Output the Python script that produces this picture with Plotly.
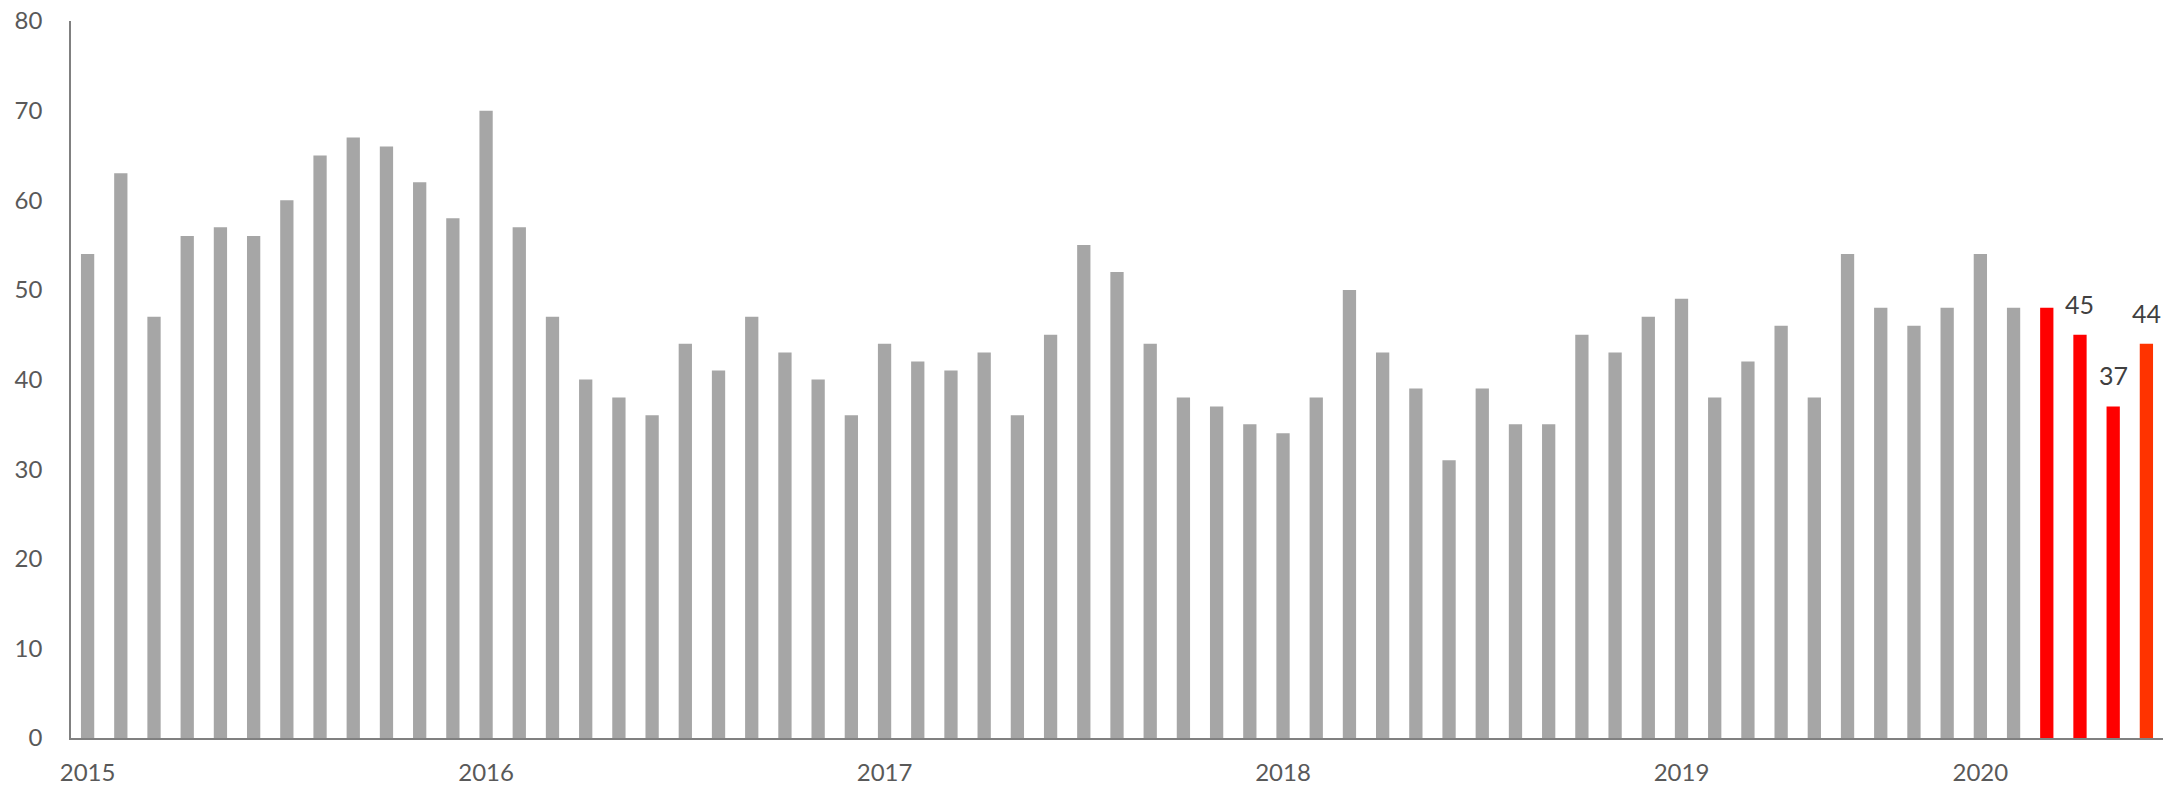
import plotly.graph_objects as go

values = [54, 63, 47, 56, 57, 56, 60, 65, 67, 66, 62, 58,
          70, 57, 47, 40, 38, 36, 44, 41, 47, 43, 40, 36,
          44, 42, 41, 43, 36, 45, 55, 52, 44, 38, 37, 35,
          34, 38, 50, 43, 39, 31, 39, 35, 35, 45, 43, 47,
          49, 38, 42, 46, 38, 54, 48, 46, 48,
          54, 48, 48, 45, 37, 44]
year_labels = ["2015", "2016", "2017", "2018", "2019", "2020"]
year_start_index = [0, 12, 24, 36, 48, 57]
highlight_start = 59
labelled = [60, 61, 62]

GRAY = "#A6A6A6"
RED = "#FF0000"
ORANGE = "#FF3300"

x = list(range(len(values)))
colors = []
for i in x:
    if i == len(values) - 1:
        colors.append(ORANGE)
    elif i >= highlight_start:
        colors.append(RED)
    else:
        colors.append(GRAY)

fig = go.Figure()
fig.add_trace(go.Bar(x=x, y=values, marker=dict(color=colors, line=dict(width=0)),
                     hoverinfo="x+y"))

for i in labelled:
    fig.add_annotation(x=i, y=values[i], text=str(values[i]), showarrow=False,
                       yanchor="bottom", yshift=14,
                       font=dict(family="Lato", size=25, color="#404040"))

fig.update_layout(
    width=2178, height=787,
    margin=dict(l=71, r=15, t=21, b=49),
    paper_bgcolor="white", plot_bgcolor="white",
    bargap=0.6, showlegend=False,
    font=dict(family="Lato", size=24, color="#595959"),
)
fig.update_xaxes(
    range=[-0.5, len(values) - 0.5], automargin=False,
    tickmode="array", tickvals=year_start_index, ticktext=year_labels,
    showline=True, linecolor="#808080", linewidth=2,
    showgrid=False, zeroline=False, ticks="", ticklabelstandoff=12,
    tickfont=dict(family="Lato", size=24, color="#595959"),
)
fig.update_yaxes(
    range=[0, 80], dtick=10, automargin=False,
    showline=True, linecolor="#808080", linewidth=1.5,
    showgrid=False, zeroline=False, ticks="", ticklabelstandoff=22,
    tickfont=dict(family="Lato", size=24, color="#595959"),
)

fig.write_html("out.html", config={"displayModeBar": False},
               post_script="document.body.style.margin='0';document.body.style.overflow='hidden';")
